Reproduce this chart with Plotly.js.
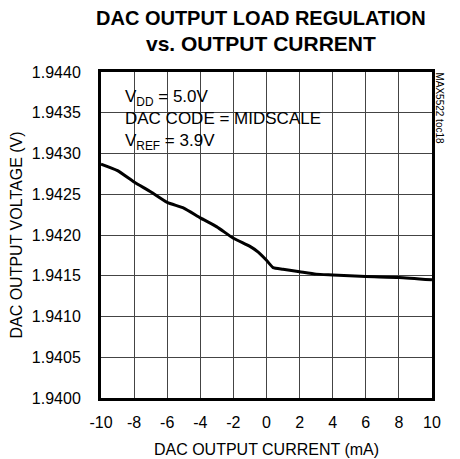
<!DOCTYPE html>
<html><head><meta charset="utf-8">
<script src="https://cdn.plot.ly/plotly-3.0.1.min.js"></script>
<style>html,body{margin:0;padding:0;background:#fff}#chart{width:460px;height:459px}</style>
</head><body><div id="chart"></div>
<script>
const currentMA = [-10, -9, -8, -7, -6, -5, -4, -3, -2, -1, -0.5, 0, 0.4, 1, 2, 3, 4, 6, 8, 10];
const outputV = [1.94287, 1.94279, 1.94265, 1.94253, 1.94240, 1.94233, 1.94221, 1.94210, 1.94196, 1.94186, 1.94179, 1.94169, 1.94160, 1.94158, 1.94155, 1.94152, 1.94151, 1.94149, 1.94148, 1.94145];
const xTicks = [-10, -8, -6, -4, -2, 0, 2, 4, 6, 8, 10];
const yTicks = [1.9400, 1.9405, 1.9410, 1.9415, 1.9420, 1.9425, 1.9430, 1.9435, 1.9440];
const titleLines = ['DAC OUTPUT LOAD REGULATION', 'vs. OUTPUT CURRENT'];
const conditionsText = 'V<sub>DD</sub> = 5.0V<br>DAC CODE = MIDSCALE<br>V<sub>REF</sub> = 3.9V';
const sideLabel = 'MAX5522 toc18';

const F = 'Liberation Sans Narrow, Arial Narrow, Liberation Sans, sans-serif';
const GRID = '#444';

const trace = {x: currentMA, y: outputV, type: 'scatter', mode: 'lines',
  line: {color: '#000', width: 3, shape: 'spline', smoothing: 0.5}, hoverinfo: 'skip'};

const layout = {
  width: 460, height: 459,
  margin: {l: 101, r: 28, t: 72, b: 61},
  paper_bgcolor: '#fff', plot_bgcolor: '#fff',
  showlegend: false, dragmode: false,
  font: {family: F, color: '#000', size: 16},
  xaxis: {range: [-10, 10], tickvals: xTicks, ticktext: xTicks.map(String),
    showgrid: true, gridcolor: GRID, gridwidth: 1, zeroline: false,
    showline: true, mirror: true, linecolor: '#000', linewidth: 3,
    tickfont: {size: 16}, ticklabelstandoff: 8, fixedrange: true,
    title: {text: 'DAC OUTPUT CURRENT (mA)', font: {size: 16}, standoff: 14}},
  yaxis: {range: [1.9400, 1.9440], tickvals: yTicks, ticktext: yTicks.map(v => v.toFixed(4)),
    showgrid: true, gridcolor: GRID, gridwidth: 1, zeroline: false,
    showline: true, mirror: true, linecolor: '#000', linewidth: 3,
    tickfont: {size: 16}, ticklabelstandoff: 14, fixedrange: true,
    title: {text: 'DAC OUTPUT VOLTAGE (V)', font: {size: 16}, standoff: 6}},
  shapes: [
    {type: 'rect', layer: 'between', xref: 'paper', yref: 'paper',
     x0: 0.05, x1: 0.57, y0: 0.755, y1: 0.972, fillcolor: '#fff', line: {width: 0}}
  ],
  annotations: [
    {xref: 'paper', yref: 'paper', x: 0.483, y: 1.167, xanchor: 'center', yanchor: 'middle',
     text: '<b>' + titleLines[0] + '</b>', showarrow: false, font: {size: 20}},
    {xref: 'paper', yref: 'paper', x: 0.483, y: 1.087, xanchor: 'center', yanchor: 'middle',
     text: '<b>' + titleLines[1] + '</b>', showarrow: false, font: {size: 21}},
    {xref: 'paper', yref: 'paper', x: 0.067, y: 0.96, xanchor: 'left', yanchor: 'top', align: 'left',
     text: conditionsText, showarrow: false, font: {size: 17}},
    {xref: 'paper', yref: 'paper', x: 1.024, y: 1.005, xanchor: 'center', yanchor: 'top',
     text: sideLabel, textangle: 90, showarrow: false, font: {size: 10}}
  ]
};
Plotly.newPlot('chart', [trace], layout, {displayModeBar: false});
</script></body></html>
